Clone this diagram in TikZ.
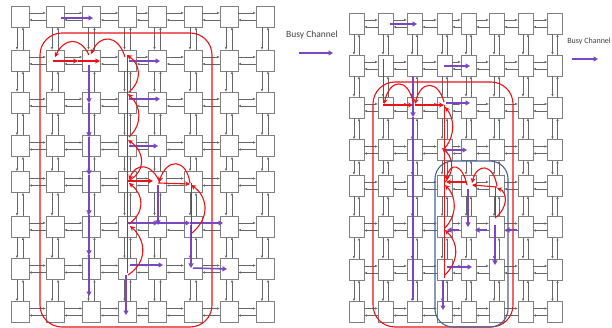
\documentclass[tikz,border=0pt]{standalone}
\usepackage{fontspec}
\setsansfont{Carlito}
\usepackage{tikz}
\usetikzlibrary{arrows.meta}

\definecolor{busy}{RGB}{122,72,190}
\definecolor{route}{RGB}{232,20,24}
\definecolor{zone}{RGB}{70,100,150}

\begin{document}
\begin{tikzpicture}[x=1pt, y=-1pt,
  router/.style={draw=black!50, fill=white, minimum height=21pt, inner sep=0pt},
  link/.style={black!60, line width=0.5pt, -{Latex[length=2.6pt,width=2.4pt]}},
  busyarrow/.style={busy, line width=1.5pt, -{Triangle[length=4.5pt,width=5pt]}},
  hop/.style={route, line width=1.1pt, -{Stealth[length=5pt,width=5pt]}},
  trail/.style={route, line width=0.9pt},
  region/.style={line width=1.1pt, rounded corners=22pt}]

  \useasboundingbox[fill=white] (0,0) rectangle (612,328);

  % Left mesh: routers
  \foreach \x [count=\i] in {20,55,91.5,127.5,157.5,193,229,265}
    \foreach \y [count=\j] in {16.5,60.5,102.5,146,182,226.5,269,312}
      \node[router, minimum width=18pt] (L-\j-\i) at (\x,\y) {};

  % Right mesh: routers
  \foreach \x [count=\i] in {356.5,385.5,414.5,444.5,468.5,496.5,525.5,555}
    \foreach \y [count=\j] in {23.5,65.5,107.5,150,185.5,227,269.5,312}
      \node[router, minimum width=15pt] (R-\j-\i) at (\x,\y) {};

  % Links, both directions
  \foreach \j in {1,...,8}
    \foreach \i in {1,...,7} {
      \pgfmathtruncatemacro\k{\i+1}
      \draw[link] ([yshift=3.5pt]L-\j-\i.east) -- ([yshift=3.5pt]L-\j-\k.west);
      \draw[link] ([yshift=-3.5pt]L-\j-\k.west) -- ([yshift=-3.5pt]L-\j-\i.east);
      \draw[link] ([xshift=-3pt]L-\i-\j.south) -- ([xshift=-3pt]L-\k-\j.north);
      \draw[link] ([xshift=3pt]L-\k-\j.north) -- ([xshift=3pt]L-\i-\j.south);
      \draw[link] ([yshift=3.5pt]R-\j-\i.east) -- ([yshift=3.5pt]R-\j-\k.west);
      \draw[link] ([yshift=-3.5pt]R-\j-\k.west) -- ([yshift=-3.5pt]R-\j-\i.east);
      \draw[link] ([xshift=-2.5pt]R-\i-\j.south) -- ([xshift=-2.5pt]R-\k-\j.north);
      \draw[link] ([xshift=2.5pt]R-\k-\j.north) -- ([xshift=2.5pt]R-\i-\j.south);
    }

  % Legend
  \node[font=\sffamily\fontsize{9.5}{11}\selectfont, text=black!75]
      (legA) at (312,35) {Busy Channel};
  \draw[busyarrow] (299,53) -- (333,53);
  \node[font=\sffamily\fontsize{8}{10}\selectfont, text=black!75, anchor=east,
        inner sep=0.5pt] (legB) at (611.5,41) {Busy Channel};
  \draw[busyarrow] (572,59) -- (598,59);

  % Left: region
  \draw[route, region] (40,33) rectangle (212,327);

  % Left: busy channels
  \draw[busyarrow] (61,18) -- (93,18);
  \foreach \a/\b in {65/103, 103/137, 137/175, 175/215, 215/255, 255/296}
    \draw[busyarrow] (89,\a) -- (89,\b);
  \draw[busyarrow] (129,61) -- (160,61);
  \draw[busyarrow] (129,99) -- (160,99);
  \draw[busyarrow] (129,146) -- (158,146);
  \draw[busyarrow] (158,185) -- (158,225);
  \draw[busyarrow] (127,223) -- (158,223);
  \draw[busyarrow] (158,223) -- (190,223);
  \draw[busyarrow] (190,223) -- (223,223);
  \draw[busyarrow] (191,225) -- (191,268);
  \draw[busyarrow] (130,265) -- (163,265);
  \draw[busyarrow] (193,268) -- (227,269);
  \draw[busyarrow] (126,275) -- (126,315);

  % Left: rerouted path
  \draw[hop] (53,61) -- (78,61);
  \draw[hop] (78,61) -- (100,61);
  \draw[hop] (125,57) .. controls (118,34) and (100,34) .. (91,54);
  \draw[hop] (89,55) .. controls (80,36) and (64,38) .. (55,57);
  \draw[trail] (127,55) -- (127,273);
  \draw[hop] (129,92) .. controls (143,80) and (140,64) .. (127,55);
  \draw[hop] (129,137) .. controls (143,124) and (141,106) .. (128,94);
  \draw[hop] (130,180) .. controls (146,170) and (145,152) .. (128,140);
  \draw[hop] (129,224) .. controls (145,212) and (144,195) .. (129,183);
  \draw[hop] (128,275) .. controls (148,262) and (146,240) .. (130,226);
  \draw[hop] (127,181) -- (153,181);
  \draw[hop] (158,183) -- (190,184);
  \draw[hop] (160,183) .. controls (152,163) and (136,162) .. (129,180);
  \draw[hop] (190,183) .. controls (186,158) and (167,158) .. (159,182);
  \draw[trail] (191,183) -- (191,240);
  \draw[hop] (192,233) .. controls (212,216) and (206,195) .. (191,185);

  % Right: regions
  \draw[route, region] (373,82) rectangle (513,327);
  \draw[zone, region, rounded corners=18pt] (435,161) rectangle (508,327);

  % Right: busy channels
  \draw[busyarrow] (390,24) -- (417,24);
  \draw[busyarrow] (444,66) -- (470,66);
  \draw[busyarrow] (413,77) -- (413,117);
  \draw[busy, line width=1.5pt] (413,117) -- (413,300);
  \draw[busyarrow] (446,103) -- (470,103);
  \draw[busyarrow] (446,150) -- (467,150);
  \draw[busyarrow] (468,189) -- (468,227);
  \draw[busyarrow] (487,230) -- (475,230);
  \draw[busyarrow] (459,230) -- (447,230);
  \draw[busyarrow] (517,230) -- (505,230);
  \draw[busyarrow] (495,225) -- (495,265);
  \draw[busyarrow] (447,267) -- (472,267);
  \draw[busyarrow] (443,280) -- (443,310);

  % Right: rerouted path
  \draw[trail] (383,59) -- (383,103);
  \draw[hop] (383,105) -- (413,105);
  \draw[hop] (415,105) -- (444,105);
  \draw[hop] (413,102) .. controls (408,78) and (390,78) .. (384,104);
  \draw[hop] (444,102) .. controls (438,80) and (421,80) .. (415,104);
  \draw[trail] (444,105) -- (444,278);
  \draw[hop] (445,148) .. controls (456,134) and (454,118) .. (445,107);
  \draw[hop] (445,182) .. controls (456,170) and (452,156) .. (442,148);
  \draw[hop] (445,228) .. controls (458,214) and (456,196) .. (445,185);
  \draw[hop] (445,275) .. controls (460,260) and (458,242) .. (445,230);
  \draw[hop] (466,182) -- (446,182);
  \draw[hop] (497,187) -- (472,185);
  \draw[hop] (467,185) .. controls (462,163) and (450,162) .. (446,180);
  \draw[hop] (497,186) .. controls (493,163) and (477,163) .. (472,183);
  \draw[trail] (495,187) -- (495,218);
  \draw[hop] (495,218) .. controls (509,207) and (507,192) .. (497,188);
\end{tikzpicture}
\end{document}
